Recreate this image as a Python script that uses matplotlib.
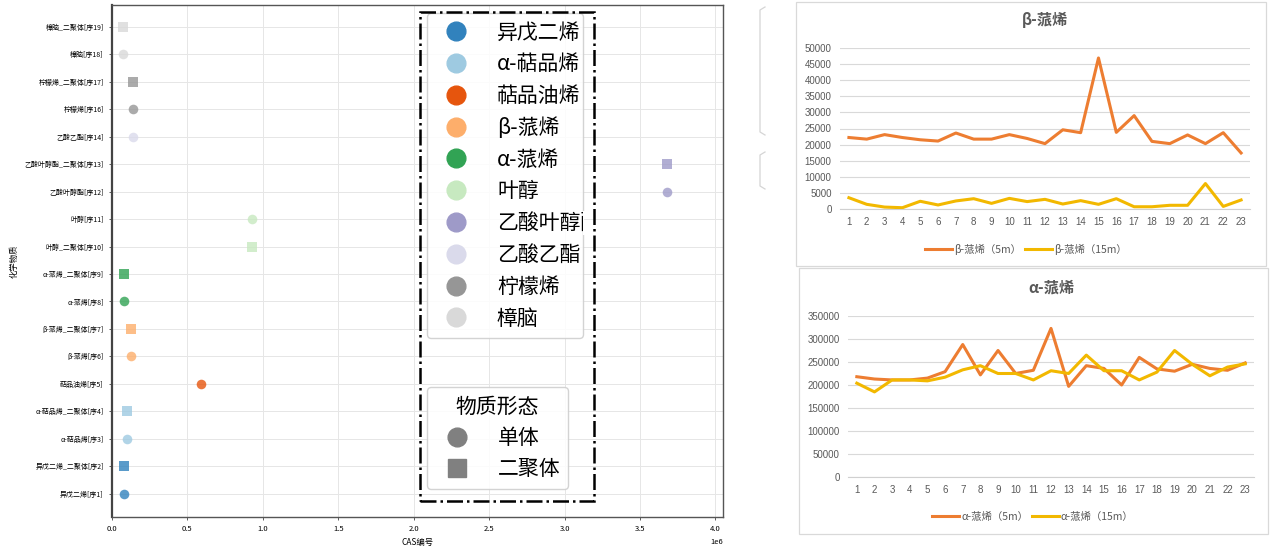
import matplotlib
matplotlib.use("Agg")
import matplotlib.pyplot as plt
from matplotlib.lines import Line2D
from matplotlib.patches import Rectangle
from matplotlib.transforms import IdentityTransform

plt.rcParams['font.family'] = ['Noto Sans CJK SC', 'DejaVu Sans']
plt.rcParams['axes.unicode_minus'] = False

W, H = 1270, 556

# ---- left chart: substances vs CAS number ----
substances = ['异戊二烯', 'α-萜品烯', '萜品油烯', 'β-蒎烯', 'α-蒎烯',
              '叶醇', '乙酸叶醇酯', '乙酸乙酯', '柠檬烯', '樟脑']
cas_numbers = [78795, 99865, 586629, 127913, 80568,
               928961, 3681718, 141786, 138863, 76222]
colors = ['#3182bd', '#9ecae1', '#e6550d', '#fdae6b', '#31a354',
          '#c7e9c0', '#9e9ac8', '#dadaeb', '#969696', '#d9d9d9']

row_labels = ['异戊二烯[序1]', '异戊二烯_二聚体[序2]', 'α-萜品烯[序3]', 'α-萜品烯_二聚体[序4]',
              '萜品油烯[序5]', 'β-蒎烯[序6]', 'β-蒎烯_二聚体[序7]', 'α-蒎烯[序8]',
              'α-蒎烯_二聚体[序9]', '叶醇_二聚体[序10]', '叶醇[序11]', '乙酸叶醇酯[序12]',
              '乙酸叶醇酯_二聚体[序13]', '乙酸乙酯[序14]', '柠檬烯[序16]', '柠檬烯_二聚体[序17]',
              '樟脑[序18]', '樟脑_二聚体[序19]']
row_substance = [0, 0, 1, 1, 2, 3, 3, 4, 4, 5, 5, 6, 6, 7, 8, 8, 9, 9]
row_form = ['单体', '二聚体', '单体', '二聚体', '单体', '单体', '二聚体', '单体', '二聚体',
            '二聚体', '单体', '单体', '二聚体', '单体', '单体', '二聚体', '单体', '二聚体']
forms = ['单体', '二聚体']
form_markers = {'单体': 'o', '二聚体': 's'}

# ---- right charts: time series ----
samples = list(range(1, 24))
beta_5m = [22200, 21700, 23100, 22200, 21500, 21100, 23600, 21700, 21700, 23100, 21900, 20300,
           24600, 23700, 46900, 23800, 29000, 21000, 20300, 23000, 20300, 23700, 17400]
beta_15m = [3500, 1450, 600, 400, 2400, 1250, 2500, 3200, 1750, 3300, 2300, 3000,
            1550, 2600, 1450, 3200, 700, 700, 1150, 1150, 7900, 800, 2800]
alpha_5m = [218000, 213000, 211000, 211000, 215000, 229000, 288000, 222000, 275000, 225000, 232000, 323000,
            197000, 242000, 236000, 200000, 260000, 235000, 230000, 245000, 236000, 232000, 248000]
alpha_15m = [204000, 185000, 211000, 211000, 209000, 217000, 233000, 242000, 225000, 225000, 211000, 231000,
             225000, 265000, 231000, 231000, 211000, 228000, 275000, 245000, 220000, 239000, 246000]

fig = plt.figure(figsize=(W / 100, H / 100), dpi=100)


def add_px_axes(x0, y0, x1, y1):
    return fig.add_axes([x0 / W, 1 - y1 / H, (x1 - x0) / W, (y1 - y0) / H])


# ================= left scatter =================
ax = add_px_axes(112, 5, 723, 517)
for i, label in enumerate(row_labels):
    s = row_substance[i]
    ax.scatter(cas_numbers[s], i, marker=form_markers[row_form[i]], s=48,
               color=colors[s], alpha=0.8, linewidths=0, zorder=3)

ax.set_yticks(range(len(row_labels)))
ax.set_yticklabels(row_labels, fontsize=5)
ax.set_ylim(-0.85, len(row_labels) - 0.2)
ax.set_xlim(0, max(cas_numbers) * 1.1)
ax.tick_params(axis='x', labelsize=5.5, length=2.5, width=0.6, color='#444')
ax.tick_params(axis='y', length=2.5, width=0.6, color='#444')
ax.xaxis.get_offset_text().set_fontsize(5.5)
grid_color = '#e6e6e6'
ax.grid(True, color=grid_color, lw=0.7)
ax.set_axisbelow(True)
for side, sp in ax.spines.items():
    sp.set_color('#555555')
    sp.set_linewidth(1.0)
ax.spines['left'].set_linewidth(1.6)
ax.spines['left'].set_color('#444444')
ax.set_xlabel('CAS编号', fontsize=6, labelpad=3)
ax.set_ylabel('化学物质', fontsize=6, labelpad=4)

# colour legend
handles1 = [Line2D([], [], marker='o', ls='', color=c, markersize=13.5) for c in colors]
leg1 = ax.legend(handles1, substances, loc='upper left',
                 bbox_to_anchor=(0.5155, 0.0, 0.2554, 0.984), mode='expand', borderaxespad=0,
                 fontsize=15, labelspacing=0.47, handlelength=2.0, handletextpad=0.96,
                 borderpad=0.4, frameon=True, fancybox=True, edgecolor='#cccccc', framealpha=0.85)
ax.add_artist(leg1)

# form legend
handles2 = [Line2D([], [], marker=form_markers[f], ls='', color='#808080', markersize=13.5) for f in forms]
leg2 = ax.legend(handles2, forms, title='物质形态', loc='upper left',
                 bbox_to_anchor=(0.5155, 0.0, 0.2308, 0.254), mode='expand', borderaxespad=0,
                 fontsize=15, title_fontsize=15,
                 labelspacing=0.42, handlelength=2.0, handletextpad=0.96, borderpad=0.45,
                 frameon=True, fancybox=True, edgecolor='#cccccc', framealpha=0.85)

box_x0, box_x1 = 0.504, 0.789
ax.add_patch(Rectangle((box_x0, 0.031), box_x1 - box_x0, 0.955, transform=ax.transAxes, fill=False,
                       ls='-.', lw=1.8, edgecolor='black', zorder=10, clip_on=False))

# fragments of other chart frames on the sheet
for y0, y1 in [(7, 135), (152, 189)]:
    fig.add_artist(Line2D([765 / W, 760 / W, 760 / W, 765 / W],
                          [1 - y0 / H, 1 - (y0 + 3) / H, 1 - (y1 - 3) / H, 1 - y1 / H],
                          color='#d5d5d5', lw=0.9))


# ================= Excel-like line charts =================
def excel_chart(box, area, title, title_y, series, names, ymax, ystep, legend_pos):
    fig.add_artist(Rectangle((box[0] / W, 1 - box[3] / H), (box[2] - box[0]) / W, (box[3] - box[1]) / H,
                             transform=fig.transFigure, facecolor='white', edgecolor='#d9d9d9',
                             lw=0.9, zorder=-1))
    a = add_px_axes(*area)
    line_colors = ['#ed7d31', '#f2b800']
    for vals, c in zip(series, line_colors):
        a.plot(samples, vals, color=c, lw=2.2, solid_joinstyle='round', zorder=3)
    a.set_xlim(0.5, len(samples) + 0.5)
    a.set_ylim(0, ymax)
    a.set_xticks(samples)
    a.set_yticks(range(0, ymax + 1, ystep))
    a.grid(axis='y', color='#d9d9d9', lw=0.8)
    a.set_axisbelow(True)
    for side in ['left', 'right', 'top']:
        a.spines[side].set_visible(False)
    a.spines['bottom'].set_color('#d0d0d0')
    a.tick_params(length=0, labelsize=7, labelcolor='#595959', pad=6)
    for t in a.get_xticklabels() + a.get_yticklabels():
        t.set_family(['Liberation Sans', 'DejaVu Sans'])
    cx = (area[0] + area[2]) / 2
    fig.text(cx / W, 1 - title_y / H, title, ha='center', va='center', fontsize=11,
             fontweight='bold', color='#595959')
    hs = [Line2D([], [], color=c, lw=2.2) for c in line_colors]
    fig.legend(hs, names, loc='center', bbox_to_anchor=(legend_pos[0] / W, 1 - legend_pos[1] / H),
               ncol=2, frameon=False, fontsize=7.5, handlelength=2.6, handletextpad=0.2,
               columnspacing=0.3, labelcolor='#595959')


excel_chart((796, 2, 1266, 266), (840, 48, 1250, 209), 'β-蒎烯', 20,
            [beta_5m, beta_15m], ['β-蒎烯（5m）', 'β-蒎烯（15m）'], 50000, 5000, (1026, 249))
excel_chart((799, 268, 1268, 534), (848, 316, 1254, 477), 'α-蒎烯', 288,
            [alpha_5m, alpha_15m], ['α-蒎烯（5m）', 'α-蒎烯（15m）'], 350000, 50000, (1033, 517))

# the long legend label is cut off at the legend frame: hide the overflow
# (drawn inside the axes, under the dash-dot box)
fig.canvas.draw()
renderer = fig.canvas.get_renderer()
bb = leg1.get_texts()[6].get_window_extent(renderer)
frame_bb = leg1.get_frame().get_window_extent(renderer)
cover_x0 = frame_bb.x1 - 0.5
cover_x1 = max(bb.x1 + 2, cover_x0 + 1)
ax.add_patch(Rectangle((cover_x0, bb.y0 - 1), cover_x1 - cover_x0, bb.height + 2,
                       transform=IdentityTransform(), facecolor='white', edgecolor='none',
                       zorder=7, clip_on=False))
for i in range(len(row_labels)):
    gy = ax.transData.transform((0, i))[1]
    if bb.y0 - 1 <= gy <= bb.y1 + 1:
        ax.add_line(Line2D([frame_bb.x1 + 0.5, cover_x1], [gy, gy], transform=IdentityTransform(),
                           color=grid_color, lw=0.7, zorder=7.5, clip_on=False))

fig.savefig('out.png', dpi=100)
